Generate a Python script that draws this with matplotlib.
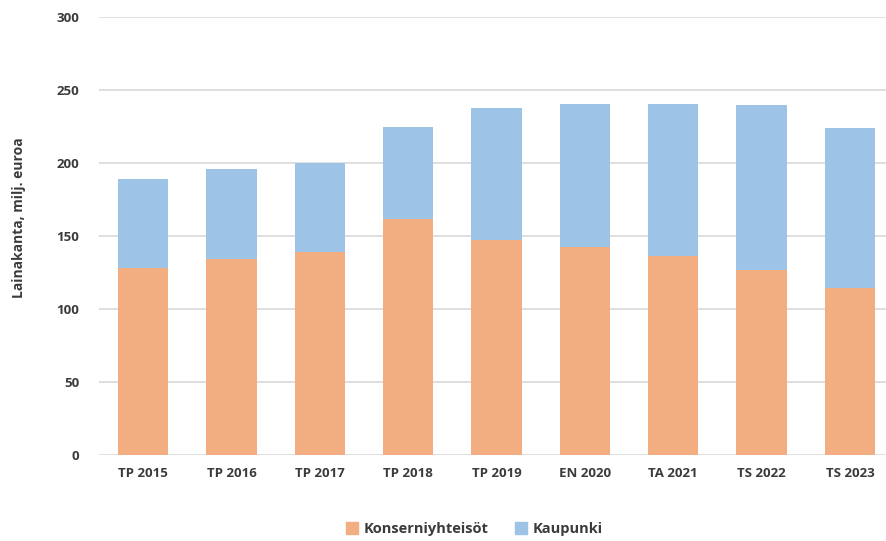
#!/usr/bin/env python3
# -*- coding: utf-8 -*-

import numpy as np
import matplotlib.pyplot as plt
from matplotlib.patches import Patch

# Data (milj. euroa)
categories = ['TP 2015', 'TP 2016', 'TP 2017', 'TP 2018', 'TP 2019',
              'EN 2020', 'TA 2021', 'TS 2022', 'TS 2023']
konserniyhteisot = [128, 134, 139, 161.5, 147.5, 142.5, 136.5, 126.5, 114]
totals = [189, 196, 200, 224.5, 237.5, 240, 240.5, 239.5, 224]
kaupunki = [t - k for t, k in zip(totals, konserniyhteisot)]
y_ticks = [0, 50, 100, 150, 200, 250, 300]

orange = '#F2AE80'
blue = '#9DC3E6'
text_col = '#3b3b3b'

plt.rcParams['font.family'] = ['Open Sans', 'DejaVu Sans']


def main():
    fig = plt.figure(figsize=(8.87, 5.41), dpi=100)
    ax = fig.add_axes([0.1116, 0.159, 0.8884, 0.81])

    x = np.arange(len(categories))
    width = 0.57
    ax.bar(x, konserniyhteisot, width, color=orange, zorder=2)
    ax.bar(x, kaupunki, width, bottom=konserniyhteisot, color=blue, zorder=2)

    ax.set_xlim(-0.5, 8.42)
    ax.set_ylim(0, 300)
    ax.set_yticks(y_ticks)
    ax.set_xticks(x)
    ax.set_xticklabels(categories)
    ax.yaxis.grid(True, color='#D9D9D9', linewidth=1.2, zorder=0)
    ax.set_axisbelow(True)
    for s in ax.spines.values():
        s.set_visible(False)
    ax.tick_params(axis='both', length=0, labelsize=9.5, colors=text_col)
    ax.tick_params(axis='x', pad=9)
    ax.tick_params(axis='y', pad=14)
    for lab in ax.get_xticklabels() + ax.get_yticklabels():
        lab.set_fontweight('bold')

    fig.text(0.021, 0.597, 'Lainakanta, milj. euroa', rotation=90,
             ha='center', va='center', fontsize=10, fontweight='bold',
             color=text_col)

    handles = [Patch(color=orange, label='Konserniyhteisöt'),
               Patch(color=blue, label='Kaupunki')]
    fig.legend(handles=handles, loc='center', bbox_to_anchor=(0.535, 0.022),
               ncol=2, frameon=False, handlelength=0.8, handleheight=0.8,
               handletextpad=0.4, columnspacing=1.8,
               prop={'size': 10.5, 'weight': 'bold'},
               labelcolor=text_col)

    fig.savefig('out.png', dpi=100)


if __name__ == "__main__":
    main()
